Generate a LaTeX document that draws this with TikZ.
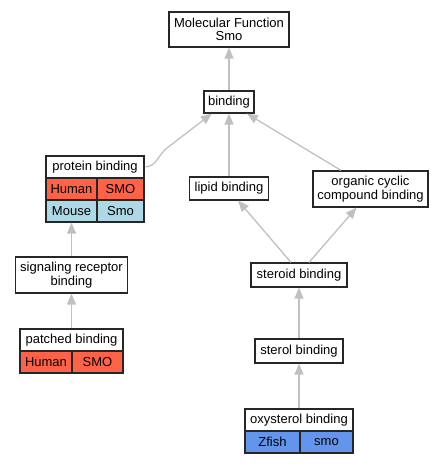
\documentclass[tikz,border=0pt]{standalone}
\usepackage{fontspec}
\setmainfont{Liberation Sans}
\usetikzlibrary{arrows.meta}
\definecolor{boxline}{HTML}{262626}
\definecolor{edgegray}{HTML}{C0C0C0}
\definecolor{humanred}{HTML}{FF6347}
\definecolor{mouseblue}{HTML}{ADD8E6}
\definecolor{fishblue}{HTML}{6495ED}
\begin{document}
\begin{tikzpicture}[x=1bp,y=-1bp,
  box/.style={draw=boxline, line width=1.2bp, fill=white, inner sep=0pt, align=center,
    font=\fontsize{13bp}{13.5bp}\selectfont, text=black},
  cell/.style={box, fill=#1},
  edge/.style={draw=edgegray, line width=1.3bp, -{Triangle[length=11bp,width=9bp]}}]
\useasboundingbox (0,0) rectangle (444,464);
% nodes
\node[box, minimum width=120bp, minimum height=35bp] (mf) at (229,29.5) {Molecular Function\\Smo};
\node[box, minimum width=50bp, minimum height=22bp] (bind) at (229,102) {binding};
% protein binding
\node[box, minimum width=98bp, minimum height=22bp] (pbh) at (95,167) {protein binding};
\node[cell=humanred, minimum width=51bp, minimum height=22bp] (pbhum) at (71.5,189) {Human};
\node[cell=humanred, minimum width=47bp, minimum height=22bp] (pbsmo) at (120.5,189) {SMO};
\node[cell=mouseblue, minimum width=51bp, minimum height=22bp] (pbmou) at (71.5,211) {Mouse};
\node[cell=mouseblue, minimum width=47bp, minimum height=22bp] (pbsmom) at (120.5,211) {Smo};
\node[box, minimum width=79bp, minimum height=23bp] (lipid) at (229,188.5) {lipid binding};
\node[box, minimum width=115bp, minimum height=36bp] (occ) at (370.5,189) {organic cyclic\\compound binding};
\node[box, minimum width=112bp, minimum height=36bp] (srb) at (71.5,275) {signaling receptor\\binding};
% patched binding
\node[box, minimum width=103bp, minimum height=22bp] (path) at (71.5,340) {patched binding};
\node[cell=humanred, minimum width=52bp, minimum height=22bp] (pahum) at (46,362) {Human};
\node[cell=humanred, minimum width=51bp, minimum height=22bp] (pasmo) at (97.5,362) {SMO};
\node[box, minimum width=96bp, minimum height=24bp] (steroid) at (299,275) {steroid binding};
\node[box, minimum width=88bp, minimum height=24bp] (sterol) at (299,351) {sterol binding};
% oxysterol binding
\node[box, minimum width=108bp, minimum height=22bp] (oxyh) at (299,420) {oxysterol binding};
\node[cell=fishblue, minimum width=55bp, minimum height=22bp] (oxyz) at (272.5,442) {Zfish};
\node[cell=fishblue, minimum width=53bp, minimum height=22bp] (oxys) at (326.5,442) {smo};
% edges
\draw[edge] (bind.north) -- (mf.south);
\draw[edge] ([xshift=1bp]pbh.east) .. controls (157,166) and (158,155) .. (167,148) -- (bind.214);
\draw[edge] (lipid.north) -- (bind.south);
\draw[edge] ([xshift=-29.5bp]occ.north) -- (bind.-33);
\draw[edge] ([xshift=-8bp]steroid.north) -- (lipid.-53.5);
\draw[edge] ([xshift=10bp]steroid.north) -- (occ.233);
\draw[edge] (srb.north) -- (pbmou.south);
\draw[edge] (path.north) -- (srb.south);
\draw[edge] (sterol.north) -- (steroid.south);
\draw[edge] (oxyh.north) -- (sterol.south);
\end{tikzpicture}
\end{document}
